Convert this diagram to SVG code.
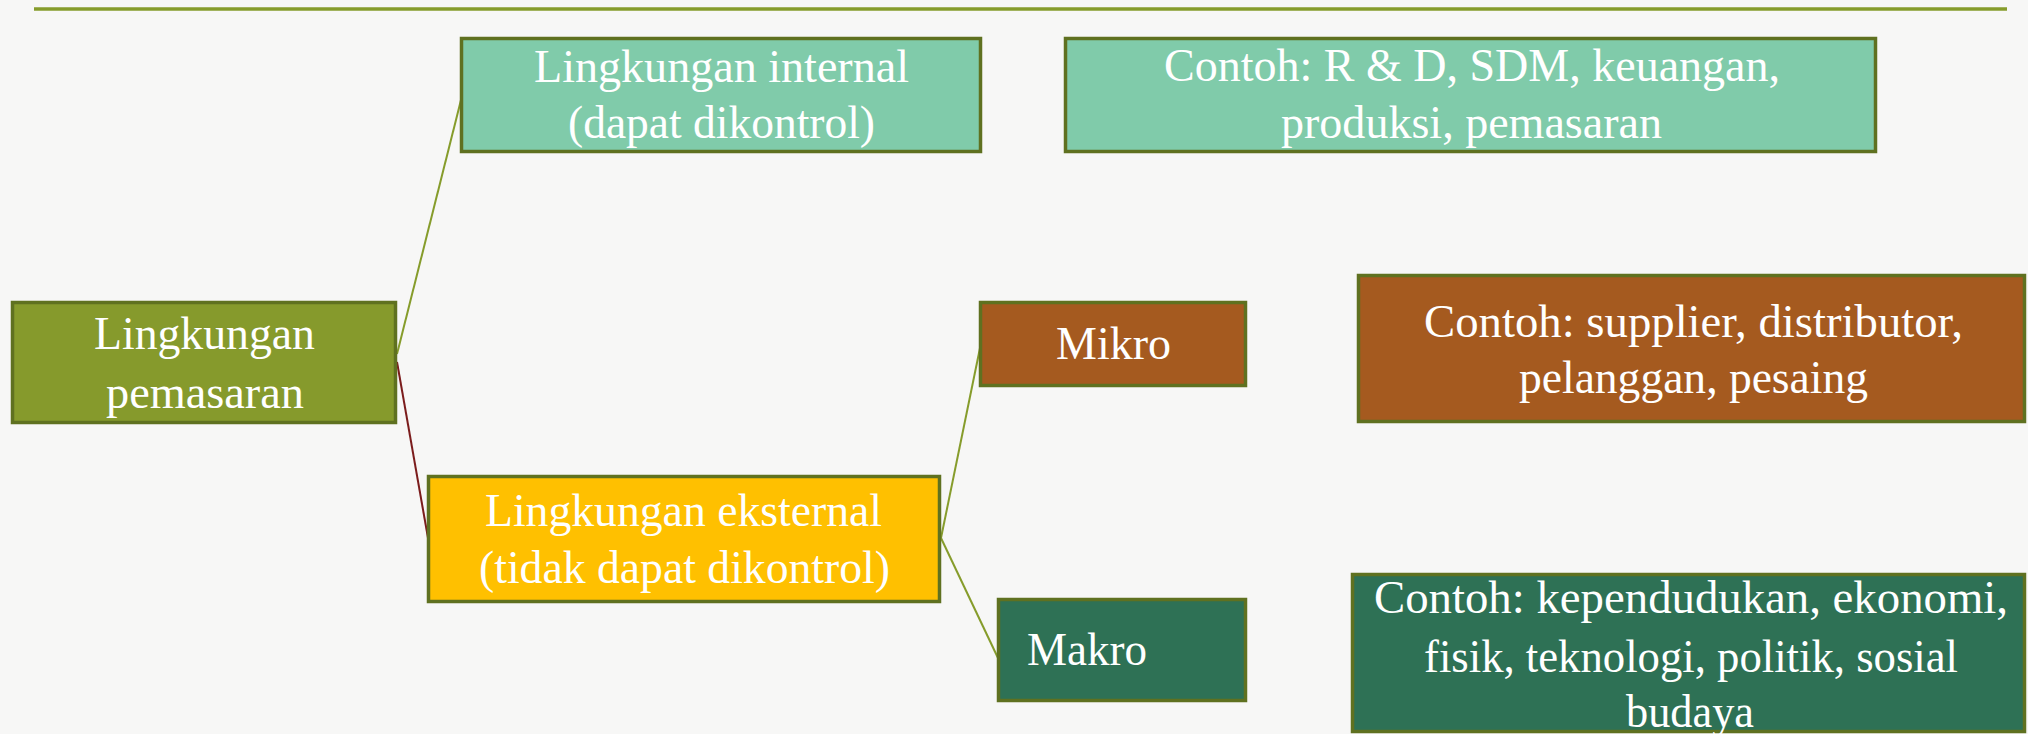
<svg xmlns="http://www.w3.org/2000/svg" width="2028" height="734" viewBox="0 0 2028 734">
<style>
.box{stroke:#5f7120;stroke-width:3.5}
.t{font-family:"Liberation Serif",serif;font-size:47px;fill:#ffffff}
.cg{stroke:#869c2b;stroke-width:2;fill:none}
.cr{stroke:#7b1c1c;stroke-width:2;fill:none}
</style>
<rect x="0" y="0" width="2028" height="734" fill="#f7f7f6"/>
<line x1="34" y1="9" x2="2007" y2="9" stroke="#869c2b" stroke-width="3.5"/>
<g id="connectors">
<line class="cg" x1="397" y1="354" x2="461" y2="100"/>
<line class="cr" x1="397" y1="362" x2="428" y2="538"/>
<line class="cg" x1="941" y1="538" x2="980" y2="348"/>
<line class="cg" x1="941" y1="538" x2="998" y2="658"/>
</g>
<g id="n-pemasaran">
<rect class="box" x="12.5" y="302.5" width="383" height="120" fill="#869a2c"/>
<text class="t" x="94" y="349" textLength="221" lengthAdjust="spacingAndGlyphs">Lingkungan</text>
<text class="t" x="106" y="408" textLength="198" lengthAdjust="spacingAndGlyphs">pemasaran</text>
</g>
<g id="n-internal">
<rect class="box" x="461.5" y="38.5" width="519" height="113" fill="#80cbaa"/>
<text class="t" x="534" y="82" textLength="375" lengthAdjust="spacingAndGlyphs">Lingkungan internal</text>
<text class="t" x="568" y="138" textLength="307" lengthAdjust="spacingAndGlyphs">(dapat dikontrol)</text>
</g>
<g id="n-contoh-internal">
<rect class="box" x="1065.5" y="38.5" width="810" height="113" fill="#80cbaa"/>
<text class="t" x="1164" y="81" textLength="616" lengthAdjust="spacingAndGlyphs">Contoh: R &amp; D, SDM, keuangan,</text>
<text class="t" x="1281" y="138" textLength="381" lengthAdjust="spacingAndGlyphs">produksi, pemasaran</text>
</g>
<g id="n-eksternal">
<rect class="box" x="428.5" y="476.5" width="511" height="125" fill="#ffc000"/>
<text class="t" x="485" y="526" textLength="397" lengthAdjust="spacingAndGlyphs">Lingkungan eksternal</text>
<text class="t" x="479" y="583" textLength="411" lengthAdjust="spacingAndGlyphs">(tidak dapat dikontrol)</text>
</g>
<g id="n-mikro">
<rect class="box" x="980.5" y="302.5" width="265" height="83" fill="#a55a1f"/>
<text class="t" x="1056" y="359" textLength="115" lengthAdjust="spacingAndGlyphs">Mikro</text>
</g>
<g id="n-contoh-mikro">
<rect class="box" x="1358.5" y="275.5" width="666" height="146" fill="#a55a1f"/>
<text class="t" x="1424" y="337" textLength="539" lengthAdjust="spacingAndGlyphs">Contoh: supplier, distributor,</text>
<text class="t" x="1519" y="393" textLength="349" lengthAdjust="spacingAndGlyphs">pelanggan, pesaing</text>
</g>
<g id="n-makro">
<rect class="box" x="998.5" y="599.5" width="247" height="101" fill="#2e7155"/>
<text class="t" x="1027" y="665" textLength="120" lengthAdjust="spacingAndGlyphs">Makro</text>
</g>
<g id="n-contoh-makro">
<rect class="box" x="1352.5" y="574.5" width="672" height="157" fill="#2e7155"/>
<text class="t" x="1374" y="613" textLength="634" lengthAdjust="spacingAndGlyphs">Contoh: kependudukan, ekonomi,</text>
<text class="t" x="1424" y="672" textLength="534" lengthAdjust="spacingAndGlyphs">fisik, teknologi, politik, sosial</text>
<text class="t" x="1626" y="727" textLength="128" lengthAdjust="spacingAndGlyphs">budaya</text>
</g>
</svg>
